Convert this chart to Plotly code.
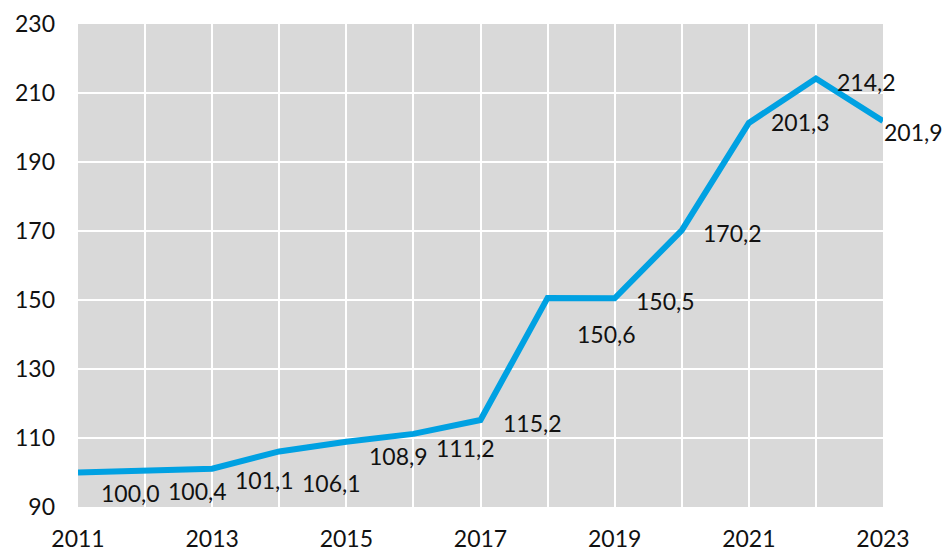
import plotly.graph_objects as go

# Index values by year (2011 = 100)
years = [2011, 2012, 2013, 2014, 2015, 2016, 2017, 2018, 2019, 2020, 2021, 2022, 2023]
values = [100.0, 100.4, 101.1, 106.1, 108.9, 111.2, 115.2, 150.6, 150.5, 170.2, 201.3, 214.2, 201.9]

y_ticks = [90, 110, 130, 150, 170, 190, 210, 230]
x_ticks = [2011, 2013, 2015, 2017, 2019, 2021, 2023]

# Pixel offsets of each value label from its point (right, down)
label_dx = [52, 52, 52, 52, 52, 52, 52, 59, 51, 51, 52, 51, 30]
label_dy = [20, 20, 11, 32, 14, 14, 3, 36, 3, 3, -1, 3, 11]

FONT = "Lato"
TEXT = "#111111"
LINE = "#00A1E2"

fig = go.Figure()
fig.add_trace(go.Scatter(
    x=years, y=values, mode="lines",
    line=dict(color=LINE, width=6),
    hoverinfo="skip", showlegend=False,
))

def fmt(v):
    return f"{v:.1f}".replace(".", ",")

for x, v, dx, dy in zip(years, values, label_dx, label_dy):
    fig.add_annotation(
        x=x, y=v, xref="x", yref="y", text=fmt(v), showarrow=False,
        xanchor="center", yanchor="middle", xshift=dx, yshift=-dy,
        font=dict(family=FONT, size=23, color=TEXT),
    )

fig.update_layout(
    width=946, height=554,
    margin=dict(l=78, r=63, t=24, b=47, autoexpand=False),
    paper_bgcolor="white", plot_bgcolor="#D9D9D9",
    font=dict(family=FONT, size=23, color=TEXT),
)
fig.update_xaxes(
    range=[2011, 2023], tickvals=x_ticks, ticktext=[str(t) for t in x_ticks],
    showgrid=True, gridcolor="white", gridwidth=2,
    minor=dict(dtick=1, tick0=2011, showgrid=True, gridcolor="white", gridwidth=2),
    zeroline=False, showline=False, ticks="", ticklabelstandoff=16,
    tickfont=dict(family=FONT, size=23, color=TEXT), automargin=False,
)
fig.update_yaxes(
    range=[90, 230], tickvals=y_ticks,
    showgrid=True, gridcolor="white", gridwidth=2,
    zeroline=False, showline=False, ticks="", ticklabelstandoff=22,
    tickfont=dict(family=FONT, size=23, color=TEXT), automargin=False,
)

fig.write_html("out.html")
